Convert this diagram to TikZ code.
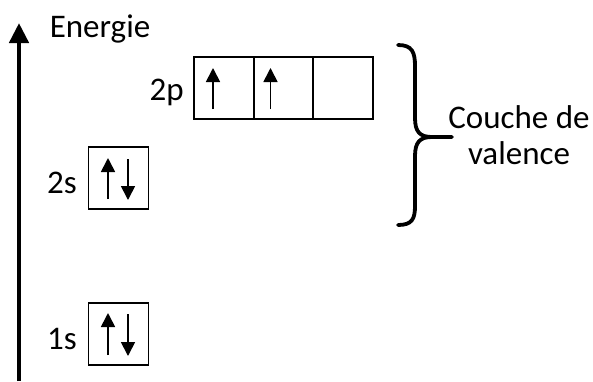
\documentclass[tikz,border=0pt]{standalone}
\usepackage{fontspec}
\setmainfont{Carlito}
\usepackage{tikz}
\usetikzlibrary{calc,arrows.meta}

\tikzset{
 orb/.style={draw,line width=1.6pt,minimum width=60pt,minimum height=62pt,inner sep=0pt},
 orbp/.style={orb,minimum width=59.5pt},
 lbl/.style={inner sep=0pt,font=\fontsize{33}{36}\selectfont},
 elec/.style={line width=1.7pt,-{Triangle[width=14pt,length=14pt]}},
 axe/.style={line width=4.5pt,-{Triangle[width=19pt,length=20pt]}}
}

\begin{document}
\begin{tikzpicture}[x=1pt,y=-1pt]
 \useasboundingbox (0,0) rectangle (593,381);

 \coordinate (o) at (19,381);
 
 \coordinate (e) at (19,23);
 
 \node[lbl,anchor=base] (en) at (100,37) {Energie};
 
 \node[orb] (s1) at (118.5,334) {};
 
 \node[orb] (s2) at (118.5,178) {};
 
 \node[orbp] (px) at (224,88) {};
 
 \node[orbp] (py) at (283.5,88) {};
 
 \node[orbp] (pz) at (343,88) {};
 
 \node[lbl,anchor=base east] (l1s) at (77,349) {1s};
 
 \node[lbl,anchor=base east] (l2s) at (77,193) {2s};
 
 \node[lbl,anchor=base east] (l2p) at (184,100) {2p};
 
 \node[lbl,align=center] (val) at (519,135) {Couche de\\valence};
 
 \draw[axe] (o) -- (e);
 
 \draw[elec] ($(s1)+(-10.5,21)$) -- ($(s1)+(-10.5,-21)$);
 \draw[elec] ($(s1)+(9.5,-20)$) -- ($(s1)+(9.5,22)$);
 \draw[elec] ($(s2)+(-10.5,21)$) -- ($(s2)+(-10.5,-20)$);
 \draw[elec] ($(s2)+(9.5,-19)$) -- ($(s2)+(9.5,22)$);
 \draw[elec] ($(px)+(-11,21)$) -- ($(px)+(-11,-20)$);
 \draw[elec] ($(py)+(-13,21)$) -- ($(py)+(-13,-20)$);
 
 \draw[line width=3.8pt,line cap=round] (398,45) .. controls (412,45) and (415,52) .. (415,66)
  -- (415,118) .. controls (415,132) and (420,137) .. (432,137) -- (452,137);
 \draw[line width=3.8pt,line cap=round] (432,137) .. controls (420,137) and (415,142) .. (415,156)
  -- (415,206) .. controls (415,219) and (412,225) .. (398,225);
 
\end{tikzpicture}
\end{document}
